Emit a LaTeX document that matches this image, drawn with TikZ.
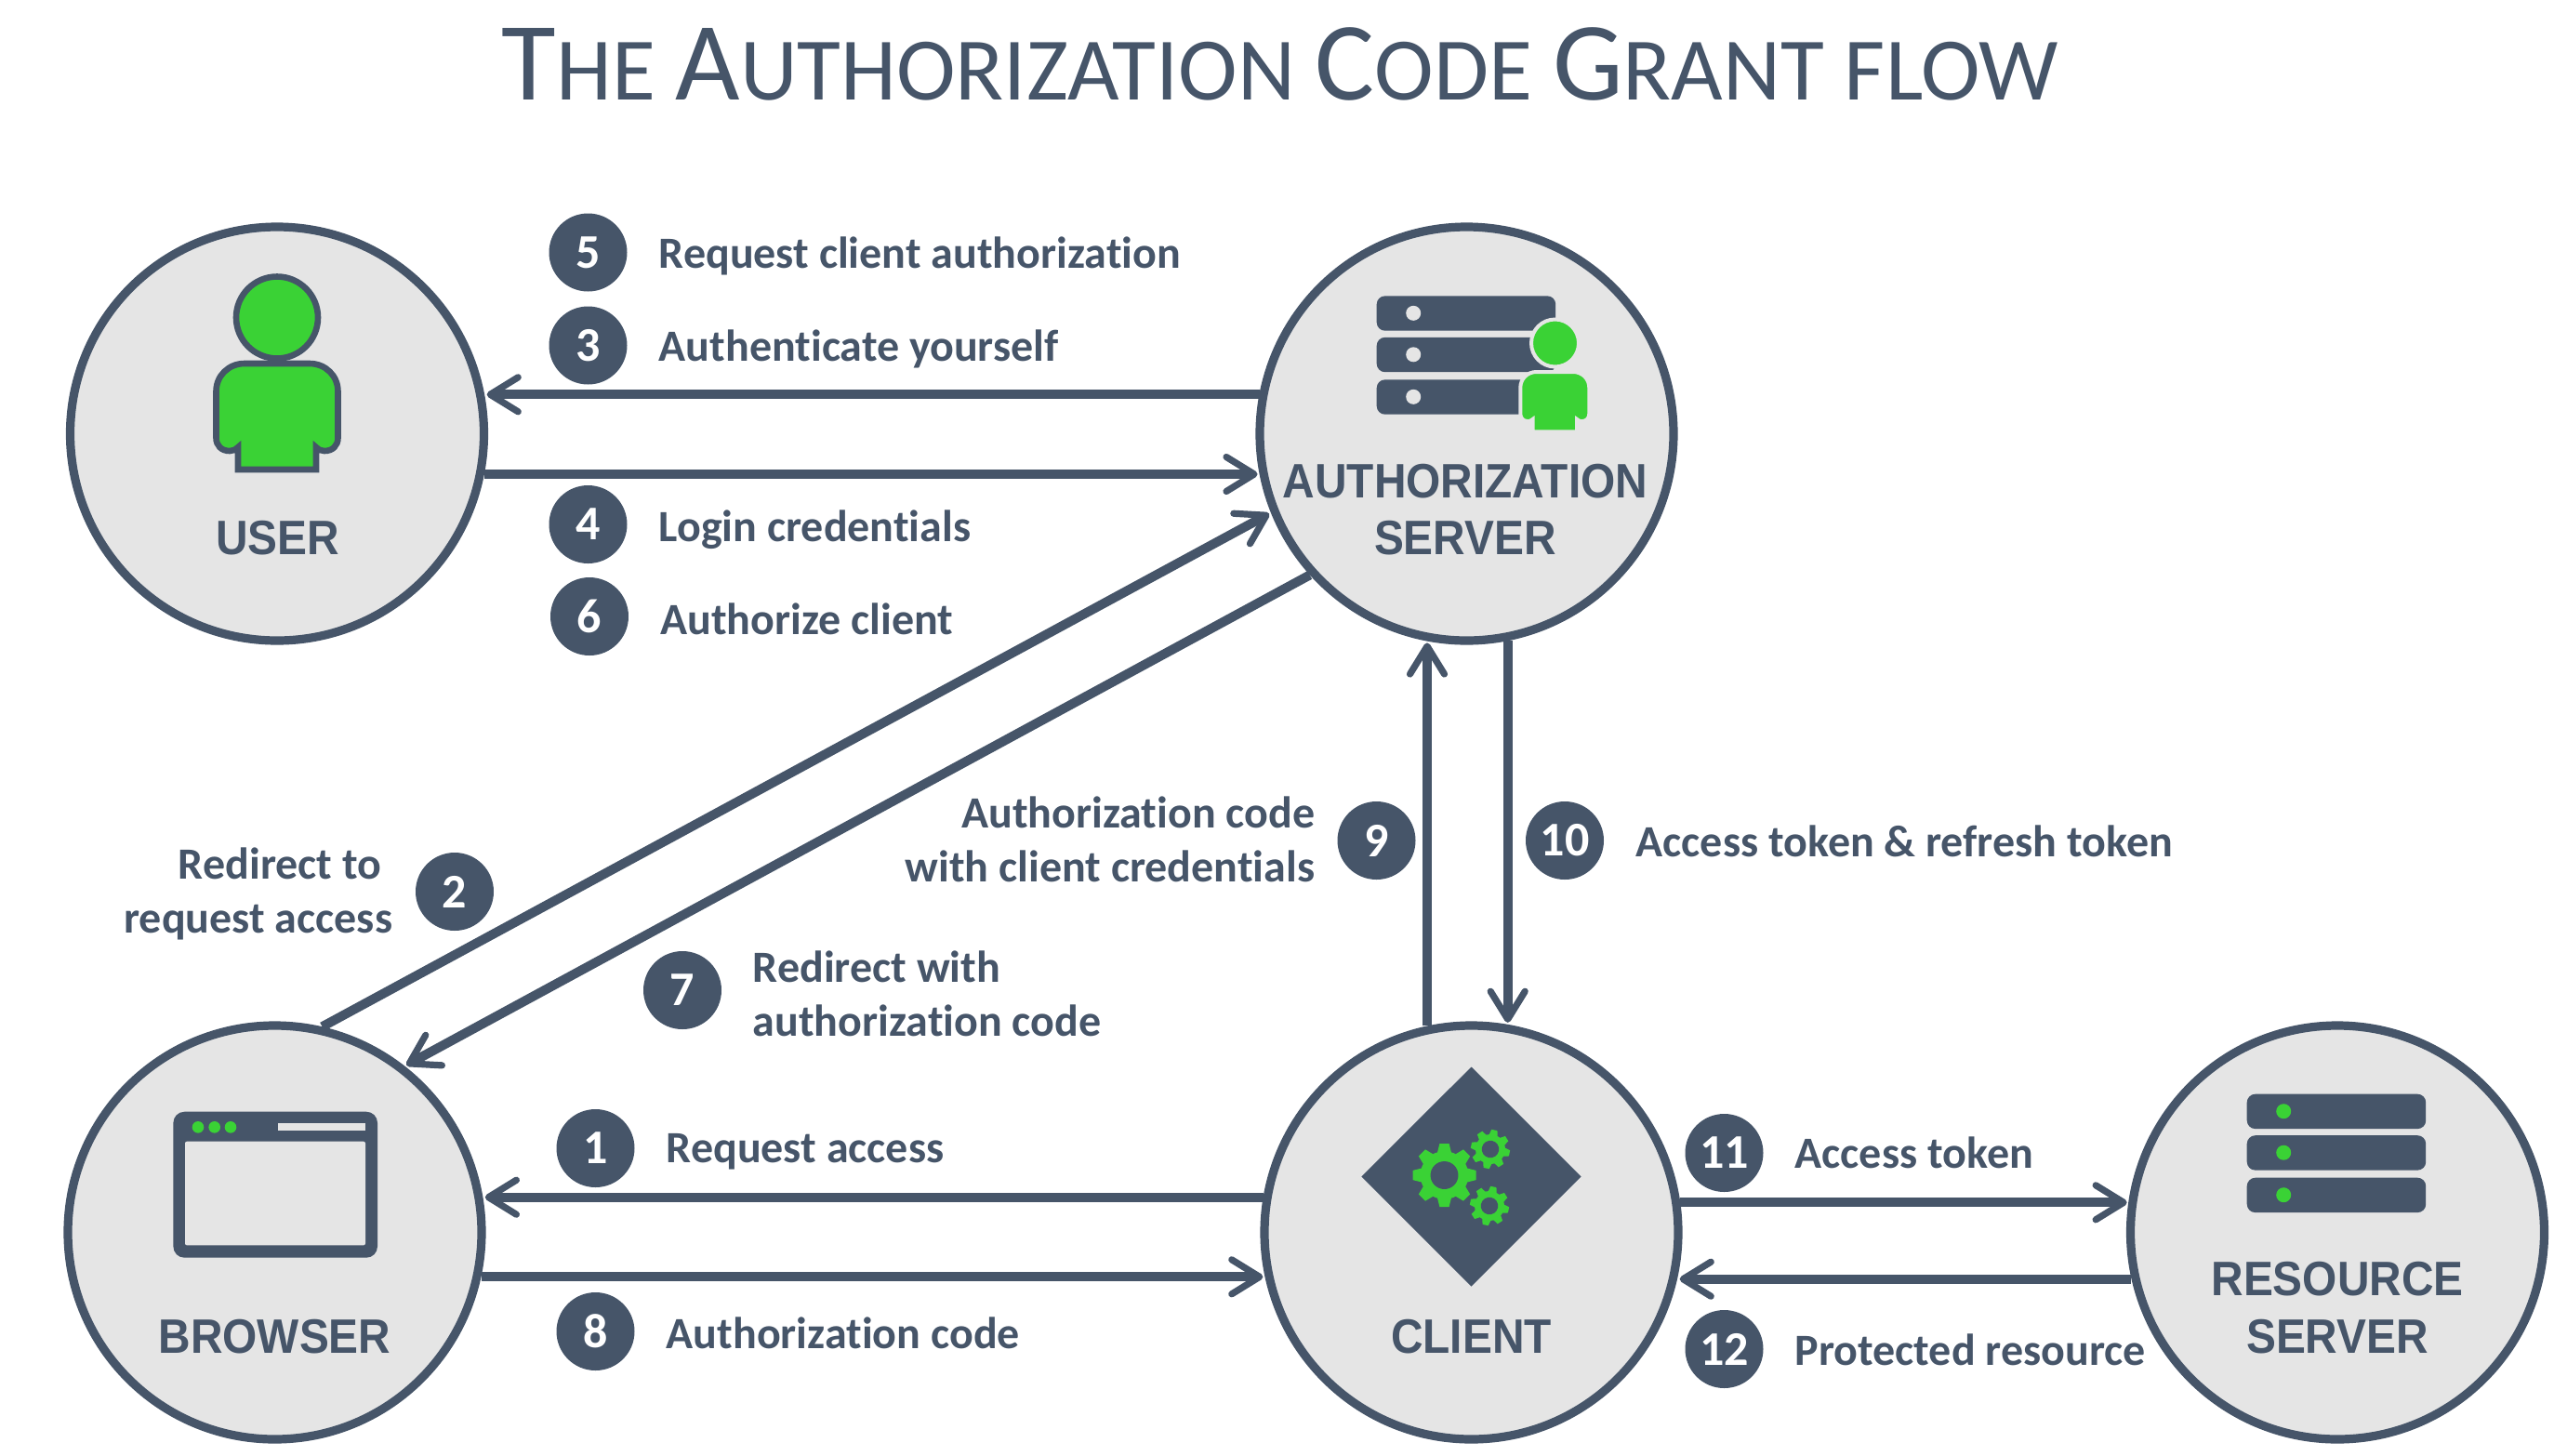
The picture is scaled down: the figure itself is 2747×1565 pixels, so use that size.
\documentclass[tikz,border=0pt]{standalone}
\usepackage{fontspec}
\usetikzlibrary{arrows.meta}
\setmainfont[Ligatures=NoCommon]{Carlito}
\newfontfamily\circlefont[FakeStretch=0.92]{Liberation Sans}
\definecolor{slate}{HTML}{465569}
\definecolor{disc}{HTML}{E5E5E5}
\definecolor{leaf}{HTML}{3AD235}

\newcommand{\capbig}[1]{{\fontsize{60}{72}\selectfont #1}}
\newcommand{\personbody}{(-42,114) -- (-42,90) .. controls (-45,93) and (-48,94) .. (-51,94) .. controls (-60,94) and (-65.5,88) .. (-65.5,80) -- (-65.5,30) .. controls (-65.5,13) and (-52,0) .. (-35,0) -- (35,0) .. controls (52,0) and (65.5,13) .. (65.5,30) -- (65.5,80) .. controls (65.5,88) and (60,94) .. (51,94) .. controls (48,94) and (45,93) .. (42,90) -- (42,114) -- cycle}
\newcommand{\gearicon}[4]{%
  \begin{scope}[shift={(#1,#2)},scale=#3,rotate=#4]
    \fill[leaf] (0,0) circle (0.76);
    \foreach \ang in {0,45,...,315} {
      \fill[leaf,rotate=\ang] (0.6,-0.25) -- (1,-0.15) -- (1,0.15) -- (0.6,0.25) -- cycle;
    }
    \fill[slate] (0,0) circle (0.44);
  \end{scope}}
\newcommand{\rackicon}[3]{%
  \foreach \rowtop/\rowdot in {0/18.5,44.5/63,90/108.5} {
    \fill[slate,rounded corners=4.5pt] (#1,#2+\rowtop) rectangle ++(192.5,37.4);
    \fill[#3] (#1+39.5,#2+\rowdot) circle (8);
  }}

\tikzset{every picture/.style={line width=0.75pt}}
\tikzset{
  actor/.style={circle,draw=slate,fill=disc,line width=4.6pt,minimum size=222.5pt,inner sep=0pt},
  actortext/.style={anchor=base,inner sep=0pt,text=slate,font=\circlefont\bfseries\fontsize{26}{30}\selectfont},
  badge/.style={circle,fill=slate,text=white,minimum size=42pt,inner sep=0pt,font=\bfseries\fontsize{26}{30}\selectfont},
  steptext/.style={inner sep=0pt,text=slate,font=\bfseries\fontsize{24}{28}\selectfont},
  flow/.style={draw=slate,line width=5pt,shorten >=1pt,-{Straight Barb[length=15pt,width=18.5pt,round,line width=3.6pt]}},
}

\begin{document}
\begin{tikzpicture}[x=0.5pt,y=0.5pt,yscale=-1]
\useasboundingbox (0,0) rectangle (2747,1565);

% Title
\draw (1377,107) node (title) [anchor=base,inner sep=0pt,text=slate,font=\fontsize{48}{58}\selectfont] {\capbig{T}HE \capbig{A}UTHORIZATION \capbig{C}ODE \capbig{G}RANT FLOW};

%Shape: Circle
\draw (298,466.5) node (user) [actor] {};
%Shape: Circle
\draw (1577.5,466.5) node (authsrv) [actor] {};
%Shape: Circle
\draw (295.5,1325.5) node (browser) [actor] {};
%Shape: Circle
\draw (1582.5,1325.5) node (client) [actor] {};
%Shape: Circle
\draw (2514,1325.5) node (ressrv) [actor] {};

%Straight Lines
\draw [flow] (authsrv.169.29 |- 0,424.3) -- (user.10.71 |- 0,424.3);
\draw [flow] (user.-11.05 |- 0,510) -- (authsrv.191.05 |- 0,510);
\draw [flow] (browser.77.4) -- (authsrv.202.4);
\draw [flow] (authsrv.222.6) -- (browser.52.2);
\draw [flow] (client.102.2 -| 1535,0) -- (authsrv.259.2 -| 1535,0);
\draw [flow] (authsrv.281.2 -| 1621.7,0) -- (client.80.1 -| 1621.7,0);
\draw [flow] (client.170.42 |- 0,1287.7) -- (browser.9.58 |- 0,1287.7);
\draw [flow] (browser.-12.15 |- 0,1373.3) -- (client.192.15 |- 0,1373.3);
\draw [flow] (client.8.16 |- 0,1293.3) -- (ressrv.171.84 |- 0,1293.3);
\draw [flow] (ressrv.192.78 |- 0,1375.7) -- (client.-12.78 |- 0,1375.7);

%Icon: person
\fill [leaf,draw=slate,line width=3.3pt] (298,341.5) circle (44);
\begin{scope}[shift={(298,391)}]
\fill [leaf,draw=slate,line width=3.3pt] \personbody;
\end{scope}

%Icon: rack with person
\rackicon{1480.7}{318.3}{disc}
\fill [leaf,draw=disc,line width=2pt] (1672.5,369) circle (25.5);
\begin{scope}[shift={(1672.3,400)},scale=0.565]
\fill [leaf,draw=disc,line width=2pt] \personbody;
\end{scope}

%Icon: window
\fill [slate,rounded corners=6pt] (186.4,1195.7) rectangle (406,1352.7);
\fill [disc,rounded corners=1pt] (199,1227.7) rectangle (393,1339.3);
\fill [disc] (299,1208.3) rectangle (393,1216);
\foreach \dotx in {213,230.7,248} {
  \fill [leaf] (\dotx,1212.3) circle (6.3);
}

%Icon: diamond with gears
\fill [slate] (1582.5,1147.5) -- (1700.7,1265.5) -- (1582.5,1383.5) -- (1464.3,1265.5) -- cycle;
\gearicon{1553.5}{1264}{34}{0}
\gearicon{1603}{1236}{21}{12}
\gearicon{1602}{1297}{21}{12}

%Icon: rack
\rackicon{2416.7}{1176.7}{leaf}

% Text Node
\draw (298.5,596.7) node (userlbl) [actortext] {USER};
% Text Node
\draw (1576,535) node (authlblA) [actortext] {AUTHORIZATION};
% Text Node
\draw (1576,596.7) node (authlblB) [actortext] {SERVER};
% Text Node
\draw (295.5,1455) node (browserlbl) [actortext] {BROWSER};
% Text Node
\draw (1582.5,1455) node (clientlbl) [actortext] {CLIENT};
% Text Node
\draw (2514,1393) node (reslblA) [actortext] {RESOURCE};
% Text Node
\draw (2514,1455) node (reslblB) [actortext] {SERVER};

% Text Node
\draw (632.5,271.5) node (badgeV) [badge] {5};
\draw (708,288) node (stepV) [steptext,anchor=base west] {Request client authorization};
% Text Node
\draw (632.5,371.5) node (badgeIII) [badge] {3};
\draw (708,388) node (stepIII) [steptext,anchor=base west] {Authenticate yourself};
% Text Node
\draw (632.5,564) node (badgeIV) [badge] {4};
\draw (708,582.5) node (stepIV) [steptext,anchor=base west] {Login credentials};
% Text Node
\draw (634,663) node (badgeVI) [badge] {6};
\draw (709.5,682.5) node (stepVI) [steptext,anchor=base west] {Authorize client};
% Text Node
\draw (489,959) node (badgeII) [badge] {2};
\draw (411,945.5) node (stepIIa) [steptext,anchor=base east] {Redirect to};
\draw (423,1003.5) node (stepIIb) [steptext,anchor=base east] {request access};
% Text Node
\draw (734,1065) node (badgeVII) [badge] {7};
\draw (809,1056.5) node (stepVIIa) [steptext,anchor=base west] {Redirect with};
\draw (809,1114) node (stepVIIb) [steptext,anchor=base west] {authorization code};
% Text Node
\draw (1480.5,904) node (badgeIX) [badge] {9};
\draw (1415,890) node (stepIXa) [steptext,anchor=base east] {Authorization code};
\draw (1415,948) node (stepIXb) [steptext,anchor=base east] {with client credentials};
% Text Node
\draw (1683,904) node (badgeX) [badge] {10};
\draw (1759,921) node (stepX) [steptext,anchor=base west] {Access token \& refresh token};
% Text Node
\draw (640.5,1235) node (badgeI) [badge] {1};
\draw (716,1250.5) node (stepI) [steptext,anchor=base west] {Request access};
% Text Node
\draw (640.5,1432) node (badgeVIII) [badge] {8};
\draw (716,1450.5) node (stepVIII) [steptext,anchor=base west] {Authorization code};
% Text Node
\draw (1854.5,1240) node (badgeXI) [badge] {11};
\draw (1930,1256.5) node (stepXI) [steptext,anchor=base west] {Access token};
% Text Node
\draw (1854.5,1451) node (badgeXII) [badge] {12};
\draw (1930,1468.5) node (stepXII) [steptext,anchor=base west] {Protected resource};

\end{tikzpicture}
\end{document}
